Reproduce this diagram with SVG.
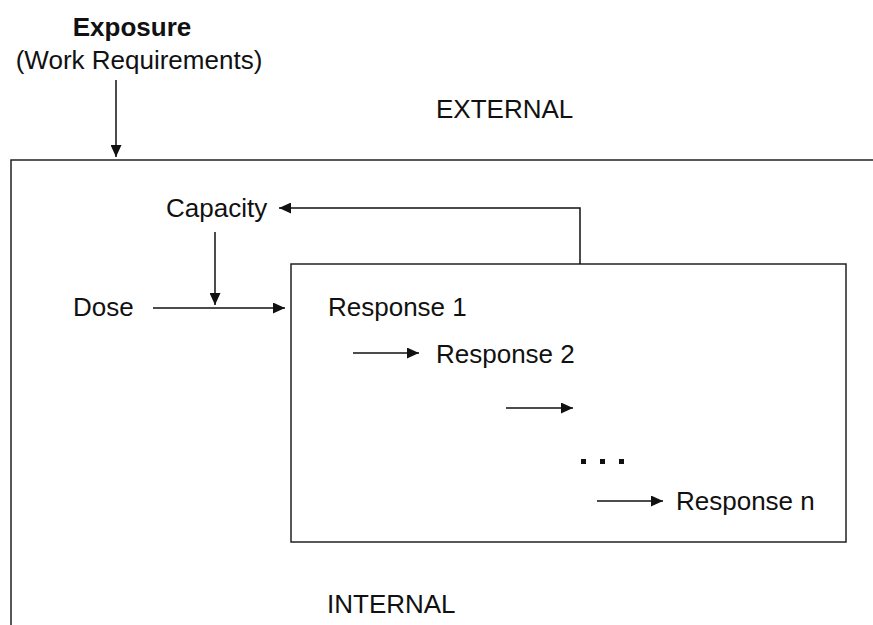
<svg xmlns="http://www.w3.org/2000/svg" width="873" height="625" viewBox="0 0 873 625">
<style>
text{font-family:"Liberation Sans",Arial,sans-serif;font-size:26px;fill:#111}
.b{font-weight:bold}
.ln{stroke:#111;stroke-width:1.5;fill:none}
.box{stroke:#222;stroke-width:1.5;fill:none}
</style>
<defs>
<marker id="ah" viewBox="0 0 12 11" refX="12" refY="5.5" markerWidth="12" markerHeight="11" markerUnits="userSpaceOnUse" orient="auto">
<path d="M0,0 L12,5.5 L0,11 z" fill="#111"/>
</marker>
</defs>
<rect width="873" height="625" fill="#fff"/>
<g id="outer">
<path class="box" d="M11,625 L11,160 L873,160"/>
<text x="436" y="118">EXTERNAL</text>
<text x="327" y="613">INTERNAL</text>
</g>
<g id="exposure">
<text class="b" x="132" y="36" text-anchor="middle">Exposure</text>
<text x="139" y="69" text-anchor="middle">(Work Requirements)</text>
</g>
<g id="capacity"><text x="166" y="217">Capacity</text></g>
<g id="dose"><text x="73" y="316">Dose</text></g>
<g id="responses">
<rect class="box" x="291" y="264" width="555" height="278"/>
<text x="328" y="316">Response 1</text>
<text x="436" y="363">Response 2</text>
<g fill="#111"><rect x="581" y="459" width="5" height="5"/><rect x="600" y="459" width="5" height="5"/><rect x="619" y="459" width="5" height="5"/></g>
<text x="676" y="510">Response n</text>
</g>
<g id="connectors">
<line class="ln" x1="116" y1="80" x2="116" y2="157" marker-end="url(#ah)"/>
<path class="ln" d="M580,264 L580,208 L279,208" marker-end="url(#ah)"/>
<line class="ln" x1="215" y1="232" x2="215" y2="305" marker-end="url(#ah)"/>
<line class="ln" x1="153" y1="308" x2="285" y2="308" marker-end="url(#ah)"/>
<line class="ln" x1="353" y1="353" x2="419" y2="353" marker-end="url(#ah)"/>
<line class="ln" x1="506" y1="408" x2="573" y2="408" marker-end="url(#ah)"/>
<line class="ln" x1="597" y1="501" x2="663" y2="501" marker-end="url(#ah)"/>
</g>
</svg>
